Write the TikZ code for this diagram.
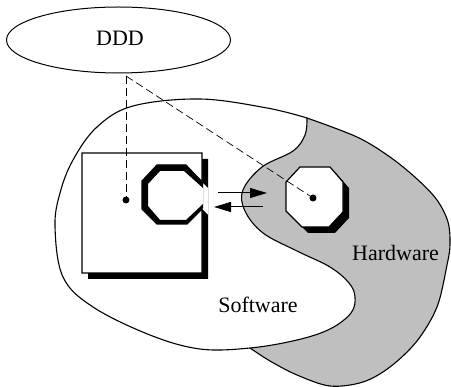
\documentclass[tikz,border=0pt]{standalone}
\usepackage{fontspec}
\setmainfont{Liberation Serif}
\usetikzlibrary{arrows.meta,shapes.geometric}
\definecolor{hwgrey}{gray}{0.75}
\tikzset{
  blobline/.style={line width=1.1pt, line join=round},
  link/.style={line width=0.7pt, dash pattern=on 8pt off 4pt},
  flow/.style={line width=1pt, -{Triangle[length=17pt, width=10pt]}},
  pin/.style={circle, fill=black, inner sep=0pt, minimum size=7pt},
  txt/.style={font=\fontsize{22}{26}\selectfont, inner sep=0pt, anchor=base},
  outline/.style={line width=1.2pt, line join=miter},
}
\begin{document}
\begin{tikzpicture}[x=1pt, y=-1pt]
\useasboundingbox (0,0) rectangle (451,387);

% hardware region (grey); its left part lies under the software region
\filldraw[fill=hwgrey, blobline] plot[smooth, tension=0.55] coordinates {
  (307,118) (357,137) (390,157) (417,179) (437,200) (448,222) (450,245)
  (447,265) (437,307) (417,341) (390,367) (363,382) (330,386) (297,375)
  (270,361) (250,348)}
  -- (225,300) -- (225,200) -- (290,130) -- cycle;

% software region (white)
\filldraw[fill=white, blobline] plot[smooth, tension=0.6] coordinates {
  (307,118) (267,108) (200,99) (133,106) (97,127) (73,160) (60,193) (55,227)
  (63,277) (93,307) (150,335) (200,349) (250,348) (297,340) (330,329)
  (351,313) (355,297) (349,283) (330,267) (297,251) (263,233) (245,211)
  (243,190) (262,167) (293,151) (305,135) (307,118)} -- cycle;

% software component: box with an octagonal socket opening to the right
\fill[black, even odd rule] (88,159) rectangle (208,279)
  (208,188) -- (202,182) -- (186,165) -- (157,165) -- (142,181) -- (142,209)
  -- (157,224) -- (187,224) -- (202,209) -- (208,215) -- cycle;
\filldraw[fill=white, outline] (82,153) -- (202,153) -- (202,182)
  -- (186,165) -- (157,165) -- (142,181) -- (142,209) -- (157,224)
  -- (187,224) -- (202,209) -- (202,273) -- (82,273) -- cycle;
% shaded rim of the socket
\fill[black, even odd rule]
  (203,182) -- (186,165) -- (157,165) -- (142,181) -- (142,209) -- (157,224)
  -- (187,224) -- (203,208) -- cycle
  (203,188) -- (184,171) -- (160,171) -- (148,184) -- (148,206) -- (160,220)
  -- (186,220) -- (203,204) -- cycle;

% hardware component: octagon with shadow
\def\hwoct{(300,167) -- (330,167) -- (343,182) -- (343,212) -- (329,227)
  -- (302,227) -- (286,211) -- (286,182) -- cycle}
\fill[black, shift={(6pt,-6pt)}] \hwoct;
\filldraw[fill=white, outline] \hwoct;

% design description
\node[draw, ellipse, line width=1pt, minimum width=224pt, minimum height=66pt,
      inner sep=0pt] (ddd) at (118.5,40) {};
\node[txt] (dddtext) at (120,46) {DDD};
\coordinate (tap) at (126,76);

% attachment points
\node[pin] (swpin) at (126,200) {};
\node[pin] (hwpin) at (313,198) {};
\draw[link] (tap) -- (swpin);
\draw[link] (tap) -- (hwpin);

% interface arrows
\coordinate (a1) at (218,193);
\coordinate (a2) at (267,193);
\coordinate (b1) at (263,207);
\coordinate (b2) at (214,207);
\draw[flow] (a1) -- (a2);
\draw[flow] (b1) -- (b2);

% region labels
\node[txt] (hwtext) at (395.5,261) {Hardware};
\node[txt] (swtext) at (258,313) {Software};
\end{tikzpicture}
\end{document}
